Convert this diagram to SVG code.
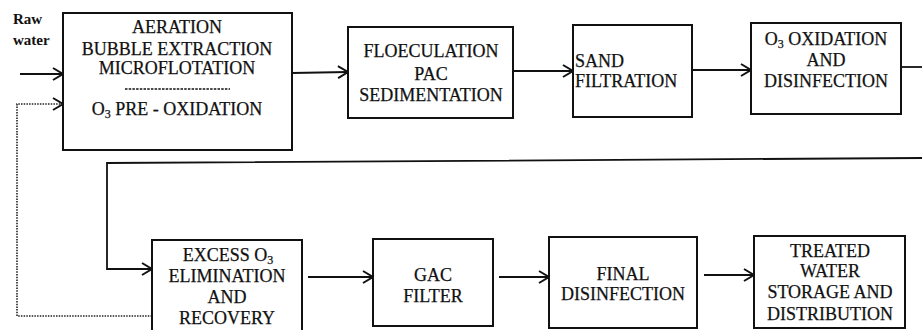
<svg xmlns="http://www.w3.org/2000/svg" width="922" height="330" viewBox="0 0 922 330">
  <defs>
    <marker id="open-arrow" markerUnits="userSpaceOnUse" markerWidth="14" markerHeight="16" refX="11" refY="7" orient="auto">
      <path d="M1,1 L11,7 L1,13" fill="none" stroke="#111" stroke-width="2" stroke-linejoin="miter"/>
    </marker>
  </defs>
  <style>
    .box { fill: #fff; stroke: #111; stroke-width: 2; }
    .lbl { font-family: "Liberation Serif", "Times New Roman", serif; font-size: 18px; fill: #111; stroke: #111; stroke-width: 0.25; text-anchor: middle; }
    .left { text-anchor: start; }
    .small { font-family: "Liberation Serif", "Times New Roman", serif; font-size: 15px; font-weight: bold; fill: #111; }
    .flow { fill: none; stroke: #111; stroke-width: 1.8; }
    .arrow { marker-end: url(#open-arrow); }
    .dotted { fill: none; stroke: #222; stroke-width: 1.6; stroke-dasharray: 1.5 1.2; }
    .sep { stroke: #111; stroke-width: 1.6; stroke-dasharray: 2.5 1.2; }
  </style>
  <rect width="922" height="330" fill="#fff"/>

  <!-- inlet label -->
  <g id="raw-water">
    <text class="small" x="13" y="24">Raw</text>
    <text class="small" x="13" y="45">water</text>
  </g>

  <!-- connectors -->
  <g id="connectors">
    <path class="flow arrow" d="M20,74 L63,74"/>
    <path class="flow arrow" d="M292,73 L348,72"/>
    <path class="flow arrow" d="M513,71 L573,71"/>
    <path class="flow arrow" d="M692,70 L751,70"/>
    <path class="flow" d="M901,67 L922,67"/>
    <path class="flow arrow" d="M922,158 L107,163 L107,269 L152,269"/>
    <path class="flow arrow" d="M308,277 L373,277"/>
    <path class="flow arrow" d="M499,277 L549,277"/>
    <path class="flow arrow" d="M704,275 L754,275"/>
    <path class="dotted arrow" d="M152,316 L17,316 L17,104 L63,104"/>
  </g>

  <g id="aeration">
    <rect class="box" x="63" y="13" width="229" height="137"/>
    <text class="lbl" x="177" y="33">AERATION</text>
    <text class="lbl" x="177" y="55">BUBBLE EXTRACTION</text>
    <text class="lbl" x="177" y="74">MICROFLOTATION</text>
    <line class="sep" x1="125" y1="89" x2="230" y2="89"/>
    <text class="lbl" x="177" y="115">O<tspan font-size="12" dy="3">3</tspan><tspan dy="-3"> PRE - OXIDATION</tspan></text>
  </g>

  <g id="flocculation">
    <rect class="box" x="348" y="27" width="165" height="91"/>
    <text class="lbl" x="431" y="57">FLOECULATION</text>
    <text class="lbl" x="431" y="80">PAC</text>
    <text class="lbl" x="431" y="101">SEDIMENTATION</text>
  </g>

  <g id="sand-filtration">
    <rect class="box" x="573" y="25" width="119" height="92"/>
    <text class="lbl left" x="575" y="67">SAND</text>
    <text class="lbl left" x="575" y="87">FILTRATION</text>
  </g>

  <g id="ozone-oxidation">
    <rect class="box" x="751" y="23" width="150" height="91"/>
    <text class="lbl" x="826" y="45">O<tspan font-size="12" dy="3">3</tspan><tspan dy="-3"> OXIDATION</tspan></text>
    <text class="lbl" x="826" y="66">AND</text>
    <text class="lbl" x="826" y="87">DISINFECTION</text>
  </g>

  <g id="excess-ozone">
    <rect class="box" x="152" y="240" width="150" height="100"/>
    <text class="lbl" x="228" y="261">EXCESS O<tspan font-size="12" dy="3">3</tspan></text>
    <text class="lbl" x="227" y="282">ELIMINATION</text>
    <text class="lbl" x="227" y="303">AND</text>
    <text class="lbl" x="227" y="324">RECOVERY</text>
  </g>

  <g id="gac-filter">
    <rect class="box" x="373" y="239" width="120" height="87"/>
    <text class="lbl" x="433" y="281">GAC</text>
    <text class="lbl" x="433" y="302">FILTER</text>
  </g>

  <g id="final-disinfection">
    <rect class="box" x="549" y="237" width="148" height="91"/>
    <text class="lbl" x="623" y="280">FINAL</text>
    <text class="lbl" x="623" y="300">DISINFECTION</text>
  </g>

  <g id="treated-water">
    <rect class="box" x="754" y="236" width="151" height="92"/>
    <text class="lbl" x="830" y="257">TREATED</text>
    <text class="lbl" x="830" y="277">WATER</text>
    <text class="lbl" x="830" y="298">STORAGE AND</text>
    <text class="lbl" x="830" y="320">DISTRIBUTION</text>
  </g>
</svg>
